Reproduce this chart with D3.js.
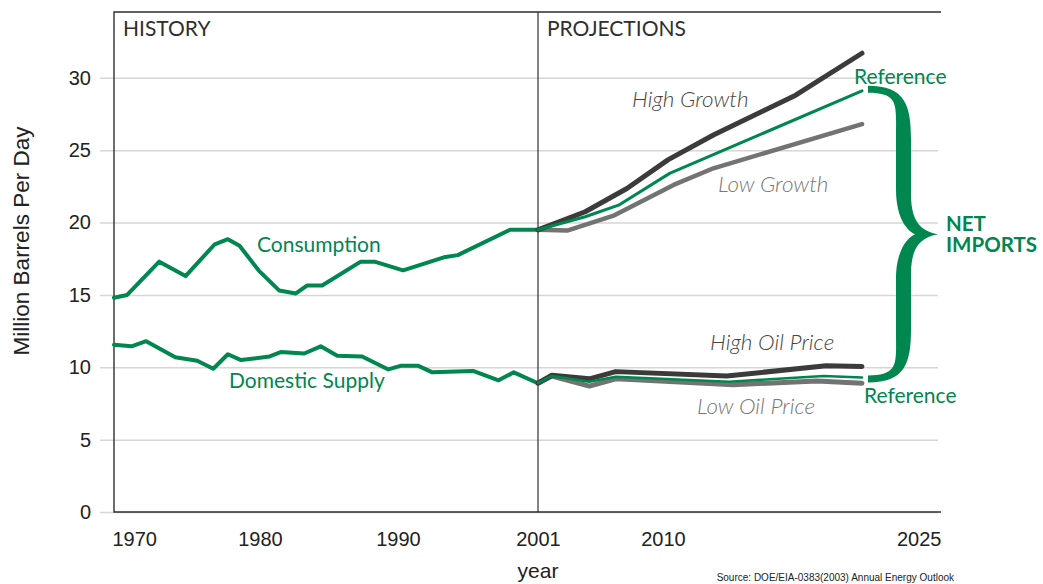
<!DOCTYPE html>
<html>
<head>
<meta charset="utf-8">
<script src="https://cdn.jsdelivr.net/npm/d3@7"></script>
<style>
  body { margin: 0; background: #fff; }
  #chart { width: 1043px; height: 584px; }
  .tick text { font-family: "Liberation Sans", Arial, sans-serif; fill: #222; }
  .lbl { font-family: Lato, "Noto Sans", sans-serif; }
</style>
</head>
<body>
<div id="chart"></div>
<script>
// --- data (million barrels per day) ---
const consumption = [[1970,14.8],[1970.9,15.0],[1973.1,17.3],[1974.9,16.3],[1976.9,18.5],[1977.8,18.85],
  [1978.6,18.4],[1979.9,16.7],[1981.4,15.3],[1982.6,15.1],[1983.4,15.65],[1984.5,15.65],[1987.3,17.3],
  [1988.3,17.3],[1990.4,16.7],[1993.6,17.6],[1994.7,17.75],[1998.8,19.5],[2001,19.5]];
const domesticSupply = [[1970,11.55],[1971.2,11.45],[1972.2,11.8],[1974.2,10.7],[1975.7,10.45],[1976.8,9.9],
  [1977.8,10.9],[1978.7,10.5],[1980.7,10.75],[1981.5,11.05],[1983.2,10.95],[1984.4,11.45],[1985.6,10.8],
  [1987.4,10.75],[1989.3,9.85],[1990.2,10.1],[1991.6,10.1],[1992.7,9.65],[1995.9,9.75],[1997.9,9.1],
  [1999.1,9.65],[2001,8.9]];

const highGrowth = [[2001,19.5],[2004.4,20.75],[2007.4,22.35],[2010.4,24.35],[2013.8,26.05],[2020,28.8],[2025,31.7]];
const refConsumption = [[2001,19.5],[2004.4,20.4],[2006.8,21.2],[2010.5,23.4],[2025,29.1]];
const lowGrowth = [[2001,19.5],[2003.1,19.45],[2006.5,20.5],[2010.8,22.6],[2013.8,23.75],[2025,26.8]];

const highOilPrice = [[2001,8.9],[2002,9.45],[2004.7,9.2],[2006.6,9.7],[2014.8,9.4],[2022.3,10.1],[2025,10.05]];
const refSupply = [[2001,8.9],[2002,9.4],[2004.7,9.0],[2006.6,9.35],[2015,9.0],[2022.1,9.4],[2025,9.3]];
const lowOilPrice = [[2001,8.9],[2002,9.4],[2004.7,8.7],[2006.6,9.2],[2015.3,8.8],[2021.6,9.05],[2025,8.9]];

const yearTicks = [1970, 1980, 1990, 2001, 2010, 2025];
const valueTicks = [0, 5, 10, 15, 20, 25, 30];

// --- layout ---
const W = 1043, H = 584;
const frame = { left: 114, right: 941, top: 12, bottom: 512 };
const GREEN = '#00864f', DARK = '#3b3b3b', GRAY = '#737373';

const svg = d3.select('#chart').append('svg').attr('width', W).attr('height', H);

// piecewise year scale, matching the uneven spacing of the original artwork
const x = d3.scaleLinear()
  .domain(yearTicks)
  .range([114, 260, 398, 538, 663, 862]);
const y = d3.scaleLinear().domain([0, 34.55]).range([frame.bottom, frame.top]);

// gridlines + y labels
const yAxis = svg.append('g')
  .attr('transform', 'translate(100,0)')
  .call(d3.axisLeft(y).tickValues(valueTicks).tickSize(-(938 - 100)).tickPadding(9));
yAxis.select('.domain').remove();
yAxis.selectAll('.tick line').attr('stroke', '#d6d6d6').attr('stroke-width', 1.5);
yAxis.selectAll('.tick text').attr('font-size', 20);

// frame
const fr = svg.append('g').attr('stroke', '#2f2f2f').attr('fill', 'none');
fr.append('path').attr('stroke-width', 1.4)
  .attr('d', `M${frame.right},${frame.top}H${frame.left}V${frame.bottom}H${frame.right}`);
fr.append('line').attr('stroke-width', 1.2)
  .attr('x1', x(2001)).attr('x2', x(2001)).attr('y1', frame.top).attr('y2', frame.bottom);

// x labels
const xAxis = svg.append('g')
  .attr('transform', `translate(0,${frame.bottom})`)
  .call(d3.axisBottom(x).tickValues(yearTicks).tickFormat(d3.format('d')).tickSize(0).tickPadding(20));
xAxis.select('.domain').remove();
xAxis.selectAll('.tick text').attr('font-size', 20);
xAxis.selectAll('.tick text').filter(d => d === 1970).attr('text-anchor', 'start').attr('x', -2);
xAxis.selectAll('.tick text').filter(d => d === 2025)
  .attr('text-anchor', 'end').attr('x', frame.right - x(2025));

// lines
const line = d3.line().x(d => x(d[0])).y(d => y(d[1]));
const series = [
  { data: consumption, color: GREEN, width: 4 },
  { data: domesticSupply, color: GREEN, width: 4 },
  { data: lowGrowth, color: GRAY, width: 4.5 },
  { data: highGrowth, color: DARK, width: 5 },
  { data: refConsumption, color: GREEN, width: 3 },
  { data: lowOilPrice, color: GRAY, width: 5 },
  { data: highOilPrice, color: DARK, width: 5 },
  { data: refSupply, color: GREEN, width: 2.5 }
];
svg.append('g').selectAll('path')
  .data(series)
  .enter().append('path')
  .attr('d', d => line(d.data))
  .attr('fill', 'none')
  .attr('stroke', d => d.color)
  .attr('stroke-width', d => d.width)
  .attr('stroke-linejoin', 'round')
  .attr('stroke-linecap', 'round');

// curly brace between the two reference cases
const x0 = 868, xm = 903, xt = 938;
const yTop = y(29.1) - 1, yBot = y(9.3) + 1, yMid = (yTop + yBot) / 2;
const brace = d3.path();
brace.moveTo(x0, yTop - 4);
brace.bezierCurveTo(xm + 2, yTop - 4, xm + 8, yTop + 15, xm + 8, yTop + 50);
brace.lineTo(xm + 8, yMid - 40);
brace.bezierCurveTo(xm + 8, yMid - 10, xt - 15, yMid - 3, xt, yMid);
brace.bezierCurveTo(xt - 15, yMid + 3, xm + 8, yMid + 10, xm + 8, yMid + 40);
brace.lineTo(xm + 8, yBot - 50);
brace.bezierCurveTo(xm + 8, yBot - 15, xm + 2, yBot + 4, x0, yBot + 4);
brace.lineTo(x0, yBot - 3);
brace.bezierCurveTo(xm - 4, yBot - 3, xm - 7, yBot - 15, xm - 7, yBot - 45);
brace.lineTo(xm - 7, yMid + 45);
brace.bezierCurveTo(xm - 7, yMid + 15, xm + 5, yMid + 3, xm + 12, yMid);
brace.bezierCurveTo(xm + 5, yMid - 3, xm - 7, yMid - 15, xm - 7, yMid - 45);
brace.lineTo(xm - 7, yTop + 45);
brace.bezierCurveTo(xm - 7, yTop + 15, xm - 4, yTop + 3, x0, yTop + 3);
brace.closePath();
svg.append('path').attr('d', brace.toString()).attr('fill', GREEN);

// annotations
const labels = [
  { text: 'HISTORY', x: 123, y: 36, color: '#2f2f2f' },
  { text: 'PROJECTIONS', x: 547, y: 36, color: '#2f2f2f' },
  { text: 'Consumption', x: 257, y: 252, color: GREEN },
  { text: 'Domestic Supply', x: 229, y: 388, color: GREEN },
  { text: 'High Growth', x: 632, y: 107, color: '#444', italic: true },
  { text: 'Reference', x: 854, y: 84, color: GREEN },
  { text: 'Low Growth', x: 718, y: 192, color: '#777', italic: true },
  { text: 'High Oil Price', x: 710, y: 350, color: '#444', italic: true },
  { text: 'Low Oil Price', x: 697, y: 414, color: '#777', italic: true },
  { text: 'Reference', x: 864, y: 403, color: GREEN }
];
svg.append('g').selectAll('text')
  .data(labels)
  .enter().append('text')
  .attr('class', 'lbl')
  .attr('x', d => d.x)
  .attr('y', d => d.y)
  .attr('fill', d => d.color)
  .attr('font-size', d => d.italic ? 22.5 : 21)
  .attr('font-style', d => d.italic ? 'italic' : 'normal')
  .attr('font-weight', d => d.italic ? 300 : 'normal')
  .text(d => d.text);

// NET IMPORTS as one two-line label
const net = svg.append('text')
  .attr('class', 'lbl')
  .attr('x', 946).attr('y', 231)
  .attr('fill', GREEN)
  .attr('font-size', 20.5)
  .attr('font-weight', 'bold');
net.append('tspan').attr('x', 946).text('NET');
net.append('tspan').attr('x', 946).attr('dy', 21).text('IMPORTS');

// axis titles and source
svg.append('text')
  .attr('transform', 'translate(29,241) rotate(-90)')
  .attr('text-anchor', 'middle')
  .attr('font-family', '"Liberation Sans", Arial, sans-serif')
  .attr('font-size', 22.5)
  .attr('fill', '#222')
  .text('Million Barrels Per Day');

svg.append('text')
  .attr('x', 538).attr('y', 578)
  .attr('text-anchor', 'middle')
  .attr('font-family', '"Liberation Sans", Arial, sans-serif')
  .attr('font-size', 21)
  .attr('fill', '#222')
  .text('year');

svg.append('text')
  .attr('x', 954).attr('y', 581)
  .attr('text-anchor', 'end')
  .attr('font-family', '"Liberation Sans", Arial, sans-serif')
  .attr('font-size', 10)
  .attr('fill', '#222')
  .text('Source: DOE/EIA-0383(2003) Annual Energy Outlook');
</script>
</body>
</html>
